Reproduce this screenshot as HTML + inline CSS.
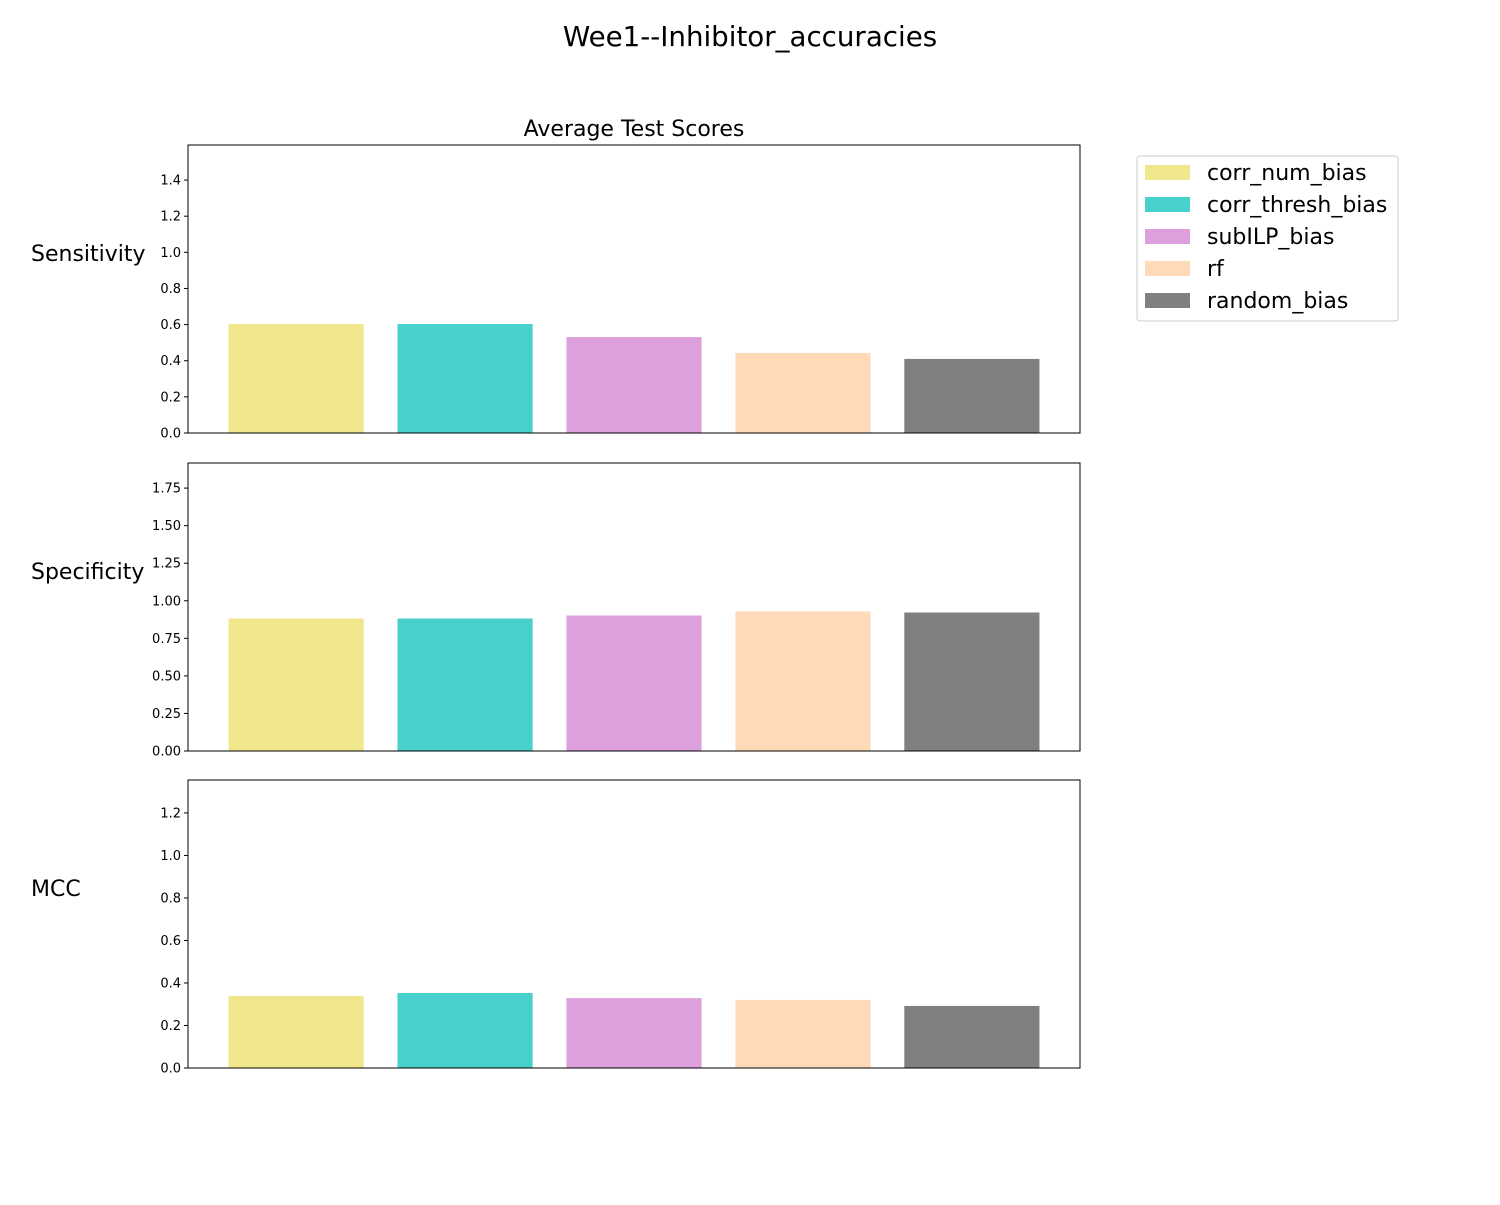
<!DOCTYPE html>
<html><head><meta charset="utf-8"><style>
body{margin:0;background:#fff;font-family:"Liberation Sans","DejaVu Sans",sans-serif}
</style></head><body>
<svg id="chart" width="1500" height="1200" xmlns="http://www.w3.org/2000/svg" font-family="DejaVu Sans, Liberation Sans, sans-serif">
<text x="750" y="46" font-size="27.7" text-anchor="middle">Wee1--Inhibitor_accuracies</text>
<text x="634" y="136" font-size="22" text-anchor="middle">Average Test Scores</text>
<g id="panels"></g>
<g>
<rect x="1137" y="156" width="261" height="165" fill="#fff" stroke="#ccc" rx="3"/>
<g id="legend-items"></g>
</g>
</svg>
<script>
const categories=["corr_num_bias","corr_thresh_bias","subILP_bias","rf","random_bias"];
const colors=["#f0e68c","#48d1cc","#dda0dd","#ffdab9","#808080"];
const metrics=["Sensitivity","Specificity","MCC"];
const sensitivity=[0.603,0.603,0.531,0.443,0.41];
const specificity=[0.882,0.882,0.902,0.929,0.922];
const mcc=[0.339,0.353,0.329,0.32,0.292];
const ymaxs=[1.594,1.917,1.355];
const ticksSens=["0.0","0.2","0.4","0.6","0.8","1.0","1.2","1.4"];
const ticksSpec=["0.00","0.25","0.50","0.75","1.00","1.25","1.50","1.75"];
const ticksMcc=["0.0","0.2","0.4","0.6","0.8","1.0","1.2"];
const series=[sensitivity,specificity,mcc];
const ticks=[ticksSens,ticksSpec,ticksMcc];
const NS="http://www.w3.org/2000/svg";
const g=document.getElementById('panels');
function mk(t,a,p){const e=document.createElementNS(NS,t);for(const k in a)e.setAttribute(k,a[k]);(p||g).appendChild(e);return e;}
const L=188,R=1080,tops=[145,463,780],H=288;
const x=v=>L+(v+0.64)*(R-L)/5.28;
metrics.forEach((m,i)=>{
  const top=tops[i],bot=top+H;
  const y=v=>bot-v/ymaxs[i]*H;
  const lab=mk('text',{x:31,y:top+H/2-28,'font-size':22});lab.textContent=m;
  
  
  series[i].forEach((v,j)=>{
    const r=mk('rect',{x:x(j-0.4),y:y(v),width:x(0.4)-x(-0.4),height:bot-y(v),fill:colors[j]});
    
    
  });
  ticks[i].forEach(t=>{
    const yy=y(parseFloat(t));
    mk('line',{x1:L-4,x2:L,y1:yy,y2:yy,stroke:'#000'});
    const tx=mk('text',{x:L-7,y:yy+4.5,'font-size':13,'text-anchor':'end'});tx.textContent=t;
    
    
  });
  const f=mk('rect',{x:L,y:top,width:R-L,height:H,fill:'none',stroke:'#000'});
  
  
});
const lg=document.getElementById('legend-items');
categories.forEach((c,j)=>{
  const yy=172+j*32;
  mk('rect',{x:1145,y:yy-7,width:45,height:15,fill:colors[j]},lg);
  const t=mk('text',{x:1207,y:yy+8,'font-size':22},lg);t.textContent=c;
  
  
});
</script>
</body></html>
